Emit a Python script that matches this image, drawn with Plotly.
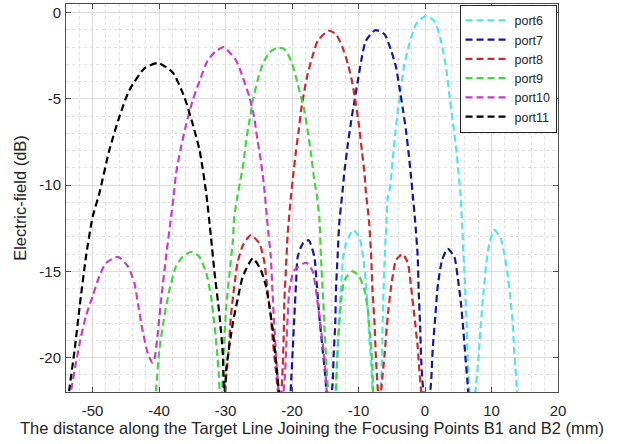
import plotly.graph_objects as go

# ---------------- data ----------------
port6_x = [-13.5, -13.4, -13.15, -12.9, -12.6, -12.3, -11.9, -10.8, -9.9, -9.3, -8.9, -8.6, -8.4, -8.1, -7.9,
           -7.3, -6.7, -6.5, -6.4, -6.27, -6.1, -5.86, -5.6, -5.26, -4.87, -4.47, -4.1, -3.6, -3.1, -2.36, -1.35,
           0.1, 1.4, 2.4, 3.16, 3.65, 4.15, 4.66, 5.05, 5.35, 5.56, 5.8, 6.06, 6.26, 6.4, 6.6,
           7.1, 7.67, 8.06, 8.4, 8.77, 9.17, 9.67, 10.4, 11.4, 11.9, 12.4, 12.8, 13.2, 13.4, 13.7, 13.8, 13.9]
port6_y = [-22.6, -21.5, -19.55, -17.6, -15.7, -14.16, -13.4, -12.6, -13.0, -14.16, -15.7, -17.25, -18.8, -20.3, -21.86,
           -23.5, -21.86, -20.3, -18.4, -16.45, -14.5, -12.6, -10.7, -10.1, -8.57, -7.03, -5.68, -4.33, -2.98, -1.83, -0.67,
           -0.2, -0.48, -1.64, -3.18, -4.72, -6.26, -7.8, -9.34, -10.6, -12.2, -14.16, -16.1, -18.0, -19.9, -21.5,
           -23.5, -21.6, -19.9, -18.0, -16.3, -14.7, -13.4, -12.6, -13.1, -13.95, -15.1, -16.45, -18.0, -19.55, -21.1, -21.86, -22.6]

port7_x = [-20.3, -20.15, -19.9, -19.65, -19.4, -19.15, -18.4, -17.5, -16.65, -16.3, -15.9, -15.4, -15.0,
           -14.5, -13.9, -13.75, -13.5, -13.4, -13.15, -12.9, -12.5, -12.1, -11.6, -11.1, -10.6, -10.1, -9.6, -8.9,
           -7.5, -6.1, -5.1, -4.35, -3.86, -3.37, -2.86, -2.46, -2.1, -1.86, -1.46, -1.1, -0.96, -0.75, -0.6, -0.36,
           0.3, 0.9, 1.15, 1.55, 1.9, 2.56, 3.4, 4.4, 4.9, 5.4, 5.76, 6.06, 6.4, 6.6]
port7_y = [-22.6, -21.5, -19.55, -17.6, -15.7, -14.16, -13.4, -13.2, -14.16, -15.7, -17.6, -19.55, -21.1,
           -23.5, -21.5, -19.9, -18.0, -16.1, -14.16, -12.2, -10.7, -9.14, -7.6, -6.26, -5.1, -3.95, -2.79, -1.64,
           -1.02, -1.25, -2.2, -3.18, -4.33, -5.5, -6.84, -8.18, -9.54, -10.5, -12.2, -14.16, -16.1, -18.0, -19.9, -21.5,
           -23.5, -21.5, -19.55, -17.6, -15.9, -14.35, -13.7, -14.16, -15.3, -16.85, -18.4, -19.9, -21.5, -22.6]

port8_x = [-30.4, -29.9, -29.5, -29.2, -28.7, -28.2, -27.4, -26.2, -24.9, -24.15, -23.7, -23.2, -22.9, -22.5, -22.15,
           -21.8, -21.4, -21.25, -21.15, -20.9, -20.65, -20.2, -19.8, -19.4, -19.0, -18.65, -18.15, -17.65, -16.9, -16.15,
           -14.5, -13.4, -12.4, -11.6, -10.9, -10.4, -9.9, -9.5, -9.1, -8.9, -8.4, -8.1, -7.9, -7.6, -7.4, -7.1,
           -6.8, -6.5, -6.1, -5.6, -5.1, -4.35, -3.37, -2.6, -2.1, -1.6, -1.1, -0.86, -0.6, -0.4]
port8_y = [-22.6, -21.1, -19.4, -17.6, -15.9, -14.5, -13.5, -12.9, -13.4, -14.5, -16.1, -17.6, -19.0, -20.5, -21.86,
           -23.0, -20.5, -18.6, -16.65, -14.7, -12.8, -10.8, -9.34, -8.0, -6.84, -5.68, -4.53, -3.56, -2.5, -1.64,
           -1.05, -1.25, -2.02, -2.98, -4.14, -5.3, -6.64, -8.0, -9.34, -10.4, -12.2, -14.16, -16.1, -18.0, -19.9, -21.86,
           -23.0, -21.5, -19.9, -17.6, -15.9, -14.35, -14.0, -14.5, -15.9, -17.6, -19.4, -20.7, -21.86, -22.6]

port9_x = [-40.6, -40.45, -39.95, -39.2, -38.45, -37.45, -36.45, -35.2, -33.95, -32.9, -32.2, -31.7, -31.3, -31.0,
           -30.7, -30.4, -30.2, -29.9, -29.4, -28.9, -28.7, -28.1, -27.4, -26.9, -26.4, -25.9, -25.2, -24.4, -23.4,
           -22.15, -21.15, -20.15, -19.4, -18.65, -18.15, -17.65, -17.15, -16.65, -16.3, -15.9, -15.65, -15.4, -15.15,
           -14.9, -14.65, -14.0, -13.4, -13.25, -13.0, -12.6, -12.1, -10.9, -9.9, -9.1, -8.6, -8.3, -7.97, -7.8, -7.7]
port9_y = [-22.6, -21.86, -19.55, -17.6, -16.1, -14.7, -14.16, -13.87, -14.16, -15.1, -16.45, -18.0, -19.55, -21.1,
           -23.5, -20.9, -19.0, -17.05, -15.1, -13.2, -11.85, -10.4, -8.96, -7.4, -6.26, -5.1, -3.95, -2.98, -2.31,
           -2.02, -2.12, -2.79, -3.76, -4.9, -5.68, -6.84, -8.18, -9.73, -10.5, -11.85, -14.16, -16.1, -18.0,
           -19.9, -21.5, -23.5, -22.0, -20.5, -18.6, -16.65, -15.5, -15.0, -15.3, -16.1, -17.25, -18.6, -20.1, -22.0, -22.6]

port10_x = [-53.4, -53.2, -52.5, -51.75, -51.0, -50.0, -49.0, -48.0, -46.2, -44.7, -43.7, -43.1, -42.5, -41.7,
            -41.0, -40.7, -40.2, -39.7, -38.95, -38.2, -37.8, -37.45, -36.7, -35.9, -34.95, -33.9, -32.7, -31.5,
            -30.3, -28.4, -27.4, -26.4, -25.7, -25.2, -24.7, -24.2, -23.7, -23.2, -22.95, -22.7, -22.4, -22.2,
            -21.7, -21.15, -20.9, -20.65, -20.4, -19.65, -17.9, -16.9, -16.4, -15.9, -15.4, -15.0, -14.8, -14.6]
port10_y = [-22.5, -21.86, -20.3, -18.8, -17.6, -16.45, -15.3, -14.53, -14.16, -14.7, -15.7, -17.05, -18.4, -19.75,
            -20.3, -20.1, -18.6, -16.65, -14.16, -11.85, -10.6, -9.34, -7.8, -6.45, -5.1, -3.95, -2.79, -2.25,
            -2.0, -2.79, -3.76, -4.9, -6.07, -7.4, -8.57, -10.1, -12.2, -14.16, -16.1, -18.0, -19.9, -21.1,
            -23.0, -21.5, -19.55, -17.6, -16.1, -14.93, -14.5, -15.0, -16.1, -17.6, -19.15, -20.7, -21.86, -22.6]

port11_x = [-53.7, -53.5, -52.7, -51.95, -51.0, -50.0, -49.0, -47.5, -46.0, -44.5, -42.2, -40.15, -37.95, -36.2,
            -34.95, -33.9, -32.9, -32.2, -31.7, -30.9, -30.4, -30.15, -29.9, -28.9, -28.2, -27.4, -25.9, -24.7,
            -23.9, -23.4, -22.9, -22.4, -22.0, -21.8]
port11_y = [-22.6, -21.85, -19.55, -17.05, -14.16, -11.85, -10.5, -8.0, -6.07, -4.52, -3.23, -2.92, -3.47, -4.9,
            -6.45, -8.0, -10.5, -13.0, -14.93, -17.6, -19.9, -23.0, -20.7, -18.0, -16.65, -15.3, -14.25, -14.93,
            -15.9, -17.05, -18.4, -20.3, -21.9, -22.6]

series_names = ["port6", "port7", "port8", "port9", "port10", "port11"]
series_x = [port6_x, port7_x, port8_x, port9_x, port10_x, port11_x]
series_y = [port6_y, port7_y, port8_y, port9_y, port10_y, port11_y]
series_colors = ["#4ee6ea", "#1616a0", "#d02828", "#3ed83e", "#c83cc8", "#000000"]

x_tickvals = [-50, -40, -30, -20, -10, 0, 10, 20]
y_tickvals = [0, -5, -10, -15, -20]

# ---------------- figure ----------------
fig = go.Figure()
for name, xs, ys, col in zip(series_names, series_x, series_y, series_colors):
    fig.add_trace(go.Scatter(
        x=xs, y=ys, mode="lines", name=name,
        line=dict(color=col, width=2.2, dash="7px,4px", shape="spline", smoothing=0.6),
    ))

font_family = "Liberation Sans, Arial, sans-serif"
axis_common = dict(
    showline=True, linecolor="#4d4d4d", linewidth=1, mirror="allticks",
    ticks="inside", ticklen=5, tickcolor="#4d4d4d", tickwidth=1,
    showgrid=True, gridcolor="#dcdcdc", gridwidth=1, zeroline=False,
    tickfont=dict(family=font_family, size=15, color="#262626"),
)

fig.update_layout(
    width=618, height=444,
    margin=dict(l=66, r=60, t=4, b=52),
    paper_bgcolor="white", plot_bgcolor="white",
    font=dict(family=font_family, color="#262626"),
    showlegend=True,
    legend=dict(
        x=0.997, y=0.998, xanchor="right", yanchor="top",
        bgcolor="white", bordercolor="#262626", borderwidth=1,
        font=dict(family=font_family, size=12.5, color="#262626"),
        itemwidth=44, tracegroupgap=0,
    ),
    xaxis=dict(
        range=[-54, 20], tickvals=x_tickvals, ticktext=[str(v) for v in x_tickvals],
        minor=dict(dtick=2, showgrid=True, gridcolor="#e0e0e0", griddash="dot", ticks=""),
        ticklabelstandoff=5,
        title=dict(text="The distance along the Target Line Joining the Focusing Points B1 and B2 (mm)",
                   font=dict(family=font_family, size=16.5, color="#262626"), standoff=4),
        automargin=False,
        **axis_common,
    ),
    yaxis=dict(
        range=[-22, 0.5], tickvals=y_tickvals, ticktext=[str(v) for v in y_tickvals],
        minor=dict(dtick=1, showgrid=True, gridcolor="#e0e0e0", griddash="dot", ticks=""),
        ticklabelstandoff=1,
        title=dict(text="Electric-field (dB)", font=dict(family=font_family, size=16.5, color="#262626"),
                   standoff=8),
        automargin=False,
        **axis_common,
    ),
)

fig.write_html("out.html", config={"displayModeBar": False},
               post_script="document.body.style.margin='0px';")
